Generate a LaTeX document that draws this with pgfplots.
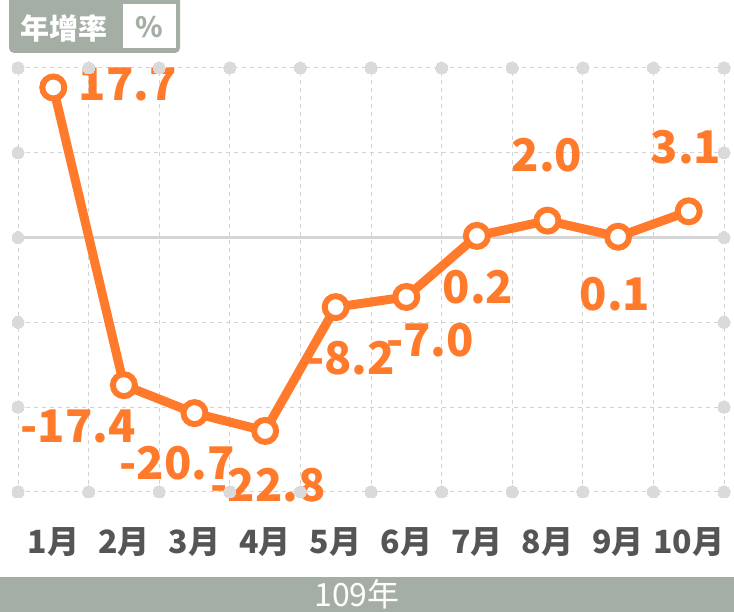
\documentclass[border=0pt]{standalone}
\usepackage{pgfplots}
\pgfplotsset{compat=1.18}
\usepackage{fontspec}
\setmainfont{Noto Sans CJK TC}
\definecolor{org}{HTML}{FF7A2B}
\definecolor{hdr}{HTML}{A5AEA5}
\definecolor{gridc}{HTML}{D3D3D3}
\definecolor{dotc}{HTML}{DADADA}
\definecolor{zeroc}{HTML}{D5D5D5}
\definecolor{tickc}{HTML}{555555}
\begin{document}
\begin{tikzpicture}[x=1pt,y=1pt]
\path[use as bounding box, fill=white] (0,0) rectangle (734,612);
\fill[hdr] (0,0) rectangle (734,35);
\node[text=white, font=\fontsize{32}{32}\selectfont, inner sep=0pt] at (357,17.5) {109年};
\fill[hdr, rounded corners=5pt] (9,559) rectangle (180,625);
\fill[white] (123,564) rectangle (176,608);
\node[text=white, font=\fontsize{29}{29}\selectfont\bfseries, inner sep=0pt] at (64,584) {年增率};
\node[text=hdr, font=\fontsize{28}{28}\selectfont\bfseries, inner sep=0pt] at (149,585) {\%};
\begin{axis}[
  at={(18pt,120pt)}, anchor=south west,
  scale only axis, width=706pt, height=424pt,
  xmin=0.5, xmax=10.5, ymin=-30, ymax=20,
  axis line style={draw=none},
  major tick style={draw=none}, minor tick style={draw=none},
  xtick={1,...,10},
  xticklabels={1月,2月,3月,4月,5月,6月,7月,8月,9月,10月},
  minor xtick={0.5,1.5,...,10.5},
  xminorgrids=true,
  ytick={-30,-20,...,20}, yticklabels={},
  ymajorgrids=true,
  major grid style={draw=gridc, line width=1pt, dash pattern=on 4pt off 4pt},
  minor grid style={draw=gridc, line width=1pt, dash pattern=on 4pt off 4pt},
  xticklabel style={anchor=center, yshift=-50pt, text=tickc, font=\fontsize{32}{32}\selectfont\bfseries},
  clip=false,
]
\addplot[draw=zeroc, line width=3pt] coordinates {(0.5,0) (10.5,0)};
\addplot[only marks, color=dotc, mark=*, mark size=6pt, mark options={fill=dotc, draw=dotc, line width=0pt}] coordinates {
(0.5,-30) (0.5,-20) (0.5,-10) (0.5,0) (0.5,10) (0.5,20)
(10.5,-30) (10.5,-20) (10.5,-10) (10.5,0) (10.5,10) (10.5,20)
(1.5,20) (2.5,20) (3.5,20) (4.5,20) (5.5,20) (6.5,20) (7.5,20) (8.5,20) (9.5,20)
(1.5,-30) (2.5,-30) (3.5,-30) (4.5,-30) (5.5,-30) (6.5,-30) (7.5,-30) (8.5,-30) (9.5,-30)
};
\addplot[draw=org, line width=9pt, mark=*, mark size=11pt, mark options={fill=white, draw=org, line width=6pt}] coordinates {
(1,17.7) (2,-17.4) (3,-20.7) (4,-22.8) (5,-8.2) (6,-7.0) (7,0.2) (8,2.0) (9,0.1) (10,3.1)
};
\tikzset{lbl/.style={text=org, font=\fontsize{45}{45}\selectfont\bfseries, inner sep=0pt}}
\node[lbl] at (axis cs:2.058,18.11) {17.7};
\node[lbl] at (axis cs:1.350,-22.33) {-17.4};
\node[lbl] at (axis cs:2.752,-26.57) {-20.7};
\node[lbl] at (axis cs:4.041,-29.17) {-22.8};
\node[lbl] at (axis cs:5.217,-14.20) {-8.2};
\node[lbl] at (axis cs:6.336,-12.08) {-7.0};
\node[lbl] at (axis cs:7.016,-5.83) {0.2};
\node[lbl] at (axis cs:7.993,9.74) {2.0};
\node[lbl] at (axis cs:8.956,-6.65) {0.1};
\node[lbl] at (axis cs:9.962,10.68) {3.1};
\end{axis}
\end{tikzpicture}
\end{document}
